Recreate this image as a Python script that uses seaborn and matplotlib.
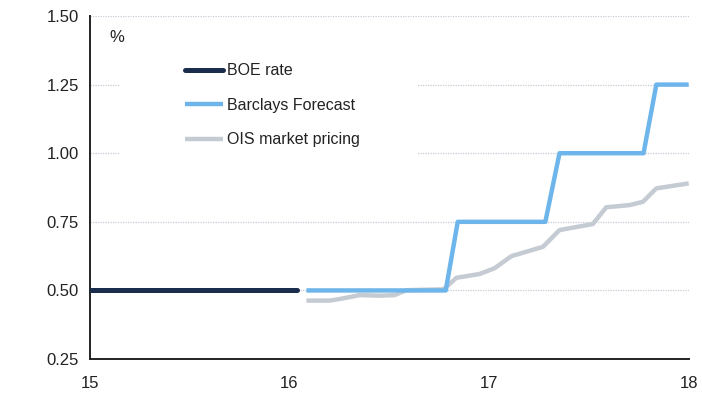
import pandas as pd
import matplotlib.pyplot as plt
import matplotlib.patches as mpatches
import seaborn as sns

# Data (x in years, e.g. 16.5 = mid 2016)
boe_x = [15.0, 16.04]
boe_y = [0.50, 0.50]

barclays_x = [16.085, 16.783, 16.843, 17.282, 17.353, 17.774, 17.838, 18.0]
barclays_y = [0.50, 0.50, 0.75, 0.75, 1.00, 1.00, 1.25, 1.25]

ois_x = [16.085, 16.202, 16.268, 16.352, 16.452, 16.527, 16.586, 16.769, 16.786,
         16.836, 16.953, 17.028, 17.112, 17.270, 17.353, 17.520, 17.587, 17.704,
         17.771, 17.838, 18.0]
ois_y = [0.463, 0.463, 0.471, 0.483, 0.481, 0.483, 0.501, 0.504, 0.513,
         0.546, 0.560, 0.581, 0.625, 0.659, 0.720, 0.742, 0.803, 0.811,
         0.823, 0.872, 0.890]

x_ticks = [15, 16, 17, 18]
y_ticks = [0.25, 0.50, 0.75, 1.00, 1.25, 1.50]

sns.set_style('white')
plt.rcParams['font.family'] = ['Liberation Sans', 'DejaVu Sans']

fig = plt.figure(figsize=(7.02, 3.95), dpi=100)
ax = fig.add_axes([0.128, 0.091, 0.853, 0.8685])

# Grid lines
for yv in y_ticks[1:]:
    ax.axhline(yv, color='#c5ccd6', lw=0.9, ls=(0, (1, 1)), zorder=0)

# white box behind the legend that hides part of the grid
ax.add_patch(mpatches.Rectangle((0.05, 0.58), 0.496, 0.32, transform=ax.transAxes,
                                facecolor='white', edgecolor='none', zorder=1))

boe = pd.DataFrame({'x': boe_x, 'y': boe_y})
bar = pd.DataFrame({'x': barclays_x, 'y': barclays_y})
ois = pd.DataFrame({'x': ois_x, 'y': ois_y})

sns.lineplot(data=ois, x='x', y='y', ax=ax, color='#c5cbd2', lw=3.2,
             label='OIS market pricing', solid_capstyle='butt', zorder=2)
sns.lineplot(data=bar, x='x', y='y', ax=ax, color='#6db5ea', lw=3.2,
             label='Barclays Forecast', solid_capstyle='butt', zorder=3)
sns.lineplot(data=boe, x='x', y='y', ax=ax, color='#1a2d4d', lw=3.6,
             label='BOE rate', solid_capstyle='round', zorder=4)

ax.set_xlim(15, 18)
ax.set_ylim(0.25, 1.5)
ax.set_xticks(x_ticks)
ax.set_xticklabels([str(t) for t in x_ticks])
ax.set_yticks(y_ticks)
ax.set_yticklabels([f'{t:.2f}' for t in y_ticks])
ax.set_xlabel('')
ax.set_ylabel('')

for s in ['top', 'right']:
    ax.spines[s].set_visible(False)
for s in ['left', 'bottom']:
    ax.spines[s].set_color('#222222')
    ax.spines[s].set_linewidth(1.4)
ax.tick_params(axis='both', direction='out', length=5, width=1.2, color='#222222',
               labelsize=12, labelcolor='#222222', pad=3)
ax.tick_params(axis='x', pad=7)

ax.text(0.033, 0.936, '%', transform=ax.transAxes, fontsize=12, color='#222222',
        va='center')

handles, labels = ax.get_legend_handles_labels()
order = [2, 1, 0]
leg = ax.legend([handles[i] for i in order], [labels[i] for i in order],
                loc='upper left', bbox_to_anchor=(0.14, 0.895), frameon=False,
                fontsize=11.5, handlelength=2.4, handletextpad=0.25,
                labelspacing=1.22, borderpad=0.2)
for t in leg.get_texts():
    t.set_color('#222222')

fig.savefig('out.png', dpi=100)
